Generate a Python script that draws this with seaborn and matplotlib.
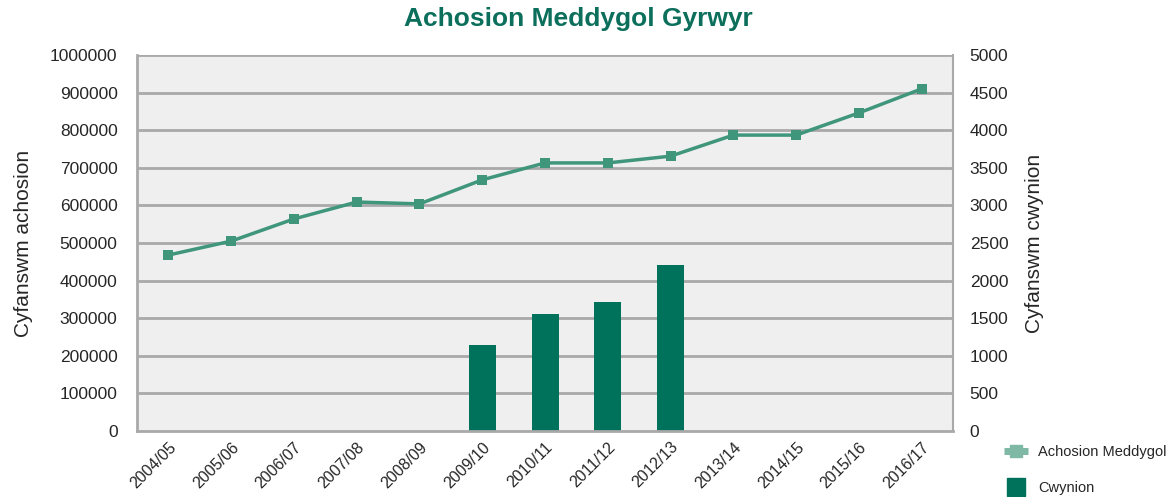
import numpy as np
import pandas as pd
import seaborn as sns
import matplotlib.pyplot as plt
from matplotlib.lines import Line2D

# ── Data ──────────────────────────────────────────────────────────────────────
years = ["2004/05", "2005/06", "2006/07", "2007/08", "2008/09", "2009/10", "2010/11",
         "2011/12", "2012/13", "2013/14", "2014/15", "2015/16", "2016/17"]
cases = [468000, 505000, 564000, 609000, 604000, 668000, 713000,
         713000, 731000, 787000, 787000, 846000, 910000]
complaints = [0, 0, 0, 0, 0, 1144, 1556, 1715, 2207, 0, 0, 0, 0]

LINE_COLOR  = "#3f967b"
BAR_COLOR   = "#00715a"
TITLE_COLOR = "#0b6f5c"
GRID_COLOR  = "#a9a9a9"

sns.set_theme(style="white")
plt.rcParams["font.family"] = ["Liberation Sans", "DejaVu Sans"]

df = pd.DataFrame({"year": years, "cases": cases, "complaints": complaints})

fig = plt.figure(figsize=(11.76, 4.97), dpi=100)
ax = fig.add_axes([0.1165, 0.1328, 0.6939, 0.7565])
ax2 = ax.twinx()

# bars on the right axis
sns.barplot(data=df, x="year", y="complaints", color=BAR_COLOR, width=0.43,
            saturation=1, linewidth=0, ax=ax2, zorder=2)
# line on the left axis
sns.lineplot(data=df, x="year", y="cases", color=LINE_COLOR, lw=2.5,
             marker="s", markersize=7, markeredgewidth=0, sort=False, ax=ax, zorder=3)

ax.set_zorder(ax2.get_zorder() + 1)
ax.patch.set_visible(False)
ax2.patch.set_facecolor("#efefef")
ax2.patch.set_visible(True)

ax.set_xlim(-0.5, 12.5)
ax.set_ylim(0, 1000000)
ax2.set_ylim(0, 5000)
ax.set_yticks(np.arange(0, 1000001, 100000))
ax2.set_yticks(np.arange(0, 5001, 500))
ax.set_yticklabels([f"{v}" for v in range(0, 1000001, 100000)], fontsize=12.5)
ax2.set_yticklabels([f"{v}" for v in range(0, 5001, 500)], fontsize=12.5)

ax.set_xticks(range(len(years)))
ax.set_xticklabels(years, rotation=45, ha="right", rotation_mode="anchor", fontsize=11.5)
ax2.set_xlabel("")
ax.set_xlabel("")

for v in np.arange(100000, 1000001, 100000):
    ax2.axhline(v / 200, color=GRID_COLOR, lw=2, zorder=1)

for a in (ax, ax2):
    for s in a.spines.values():
        s.set_visible(False)
for side, w in (("left", 2), ("right", 1.5), ("bottom", 2)):
    ax2.spines[side].set_visible(True)
    ax2.spines[side].set_color(GRID_COLOR)
    ax2.spines[side].set_linewidth(w)

ax.tick_params(axis="y", length=0, pad=14)
ax2.tick_params(axis="y", length=0, pad=12)
ax.tick_params(axis="x", length=0, pad=6)

ax.set_ylabel("Cyfanswm achosion", fontsize=15, labelpad=12)
ax2.set_ylabel("Cyfanswm cwynion", fontsize=15, labelpad=12)

fig.suptitle("Achosion Meddygol Gyrwyr", x=0.492, y=0.985, fontsize=19,
             fontweight="bold", color=TITLE_COLOR,
             family=["Liberation Sans Narrow", "Liberation Sans", "DejaVu Sans"])

handles = [
    Line2D([0], [0], color="#7fb8a4", lw=5, marker="s", markersize=9,
           solid_capstyle="butt"),
    Line2D([0], [0], color=BAR_COLOR, lw=0, marker="s", markersize=13),
]
fig.legend(handles, ["Achosion Meddygol", "Cwynion"], loc="lower left",
           bbox_to_anchor=(0.843, -0.022), frameon=False, fontsize=10.5,
           labelspacing=1.5, handlelength=1.6, handletextpad=0.7)

fig.savefig("out.png", dpi=100)
